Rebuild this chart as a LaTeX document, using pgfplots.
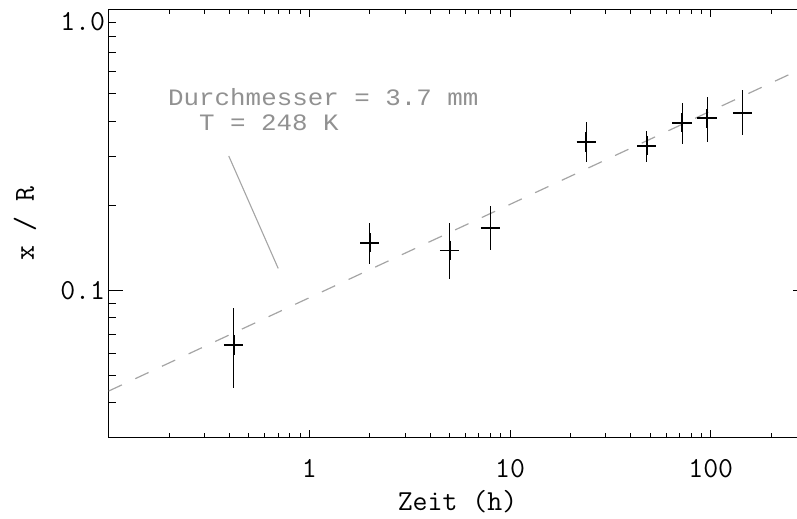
\documentclass[border=0pt]{standalone}
\usepackage{fontspec}
\usepackage{pgfplots}
\pgfplotsset{compat=1.18}
\newfontfamily\annfont{Liberation Mono}[FakeStretch=1.1]
\definecolor{dashgray}{RGB}{165,165,165}
\definecolor{anngray}{RGB}{145,145,145}
\begin{document}
\begin{tikzpicture}
\begin{loglogaxis}[
  scale only axis, width=697.9pt, height=428.7pt,
  xmin=0.1, xmax=300, ymin=0.03, ymax=1,
  axis line style={line width=1.1pt},
  every tick/.append style={black, line width=1pt},
  xtick={1,10,100}, xticklabels={1,10,100},
  minor xtick={0.2,0.3,0.4,0.5,0.6,0.7,0.8,0.9,2,3,4,5,6,7,8,9,20,30,40,50,60,70,80,90,200,300},
  ytick={0.1}, yticklabels={0.1},
  extra y ticks={1}, extra y tick labels={1.0},
  extra y tick style={yticklabel style={yshift=-12pt}},
  minor ytick={0.03,0.04,0.05,0.06,0.07,0.08,0.09,0.2,0.3,0.4,0.5,0.6,0.7,0.8,0.9},
  xtick style={/pgfplots/major tick length=8pt,/pgfplots/minor tick length=4.5pt},
  ytick style={/pgfplots/major tick length=14pt,/pgfplots/minor tick length=7pt},
  tick label style={font=\fontsize{29}{34}\selectfont\ttfamily},
  xticklabel style={anchor=base, yshift=-40pt},
  xlabel={Zeit (h)}, ylabel={x / R},
  label style={font=\fontsize{29}{34}\selectfont\ttfamily},
  xlabel style={at={(axis description cs:0.5,-0.1682)}, anchor=base},
  ylabel style={at={(axis description cs:-0.1069,0.5)}, anchor=base},
]
\addplot[dashgray, line width=1.2pt, dash pattern=on 14.7pt off 14.7pt] coordinates {(0.1,0.044) (300,0.626)};
\addplot[dashgray, line width=1.1pt] coordinates {(0.397,0.301) (0.70,0.120)};
\addplot[black, only marks, mark=+, mark size=9.7pt, mark options={line width=1.8pt},
  error bars/.cd, y dir=both, y explicit, error mark=none,
  error bar style={line width=1pt, black}]
  coordinates {
  (0.42,0.0641) += (0,0.0229) -= (0,0.0191)
  (2,0.148) += (0,0.0264) -= (0,0.0236)
  (5,0.139) += (0,0.0354) -= (0,0.0292)
  (8,0.1674) += (0,0.0326) -= (0,0.0284)
  (24,0.338) += (0,0.0585) -= (0,0.051)
  (48,0.3275) += (0,0.0425) -= (0,0.0405)
  (72,0.395) += (0,0.069) -= (0,0.063)
  (96,0.41) += (0,0.079) -= (0,0.072)
  (144,0.429) += (0,0.087) -= (0,0.072)
  };
\node[anchor=base west, inner sep=0pt, text=anngray, font=\annfont\fontsize{23.5}{28}\selectfont] at (axis cs:0.1977,0.4543) {Durchmesser = 3.7 mm};
\node[anchor=base west, inner sep=0pt, text=anngray, font=\annfont\fontsize{23.5}{28}\selectfont] at (axis cs:0.282,0.3694) {T = 248 K};
\coordinate (SW) at (rel axis cs:0,0);
\coordinate (NE) at (rel axis cs:1,1);
\end{loglogaxis}
\pgfresetboundingbox
\path[use as bounding box] ([xshift=-108.6pt,yshift=-81.1pt]SW) rectangle ([xshift=-9.5pt,yshift=9.2pt]NE);
\end{tikzpicture}
\end{document}
